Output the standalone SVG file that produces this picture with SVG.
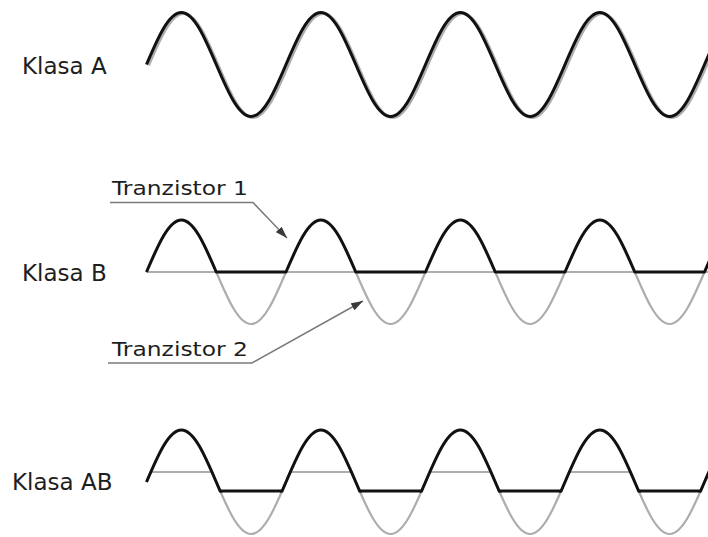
<svg xmlns="http://www.w3.org/2000/svg" xmlns:xlink="http://www.w3.org/1999/xlink" width="708" height="537" viewBox="0 0 708 537">
<style>
.lbl{font-family:"DejaVu Sans","Verdana",sans-serif;font-size:23px;fill:#1e1e1e}
.tr{font-family:"DejaVu Sans","Verdana",sans-serif;font-size:19px;fill:#1e1e1e}
.blk{fill:none;stroke:#111;stroke-width:3;stroke-linejoin:round}
.gry{fill:none;stroke:#adadad;stroke-width:2.2;stroke-linejoin:round}
.lead{fill:none;stroke:#7a7a7a;stroke-width:1.5}
</style>
<defs>
<path id="sine" d="M0,0
c 11.37,-26.64 22.25,-52 34.875,-52 c 12.625,0 23.505,25.36 34.875,52 c 11.37,26.64 22.25,52 34.875,52 c 12.625,0 23.505,-25.36 34.875,-52
c 11.37,-26.64 22.25,-52 34.875,-52 c 12.625,0 23.505,25.36 34.875,52 c 11.37,26.64 22.25,52 34.875,52 c 12.625,0 23.505,-25.36 34.875,-52
c 11.37,-26.64 22.25,-52 34.875,-52 c 12.625,0 23.505,25.36 34.875,52 c 11.37,26.64 22.25,52 34.875,52 c 12.625,0 23.505,-25.36 34.875,-52
c 11.37,-26.64 22.25,-52 34.875,-52 c 12.625,0 23.505,25.36 34.875,52 c 11.37,26.64 22.25,52 34.875,52 c 12.625,0 23.505,-25.36 34.875,-52
c 11.37,-26.64 22.25,-52 34.875,-52"/>
<path id="top" d="M0,0
c 11.37,-26.64 22.25,-52 34.875,-52 c 12.625,0 23.505,25.36 34.875,52 h69.75
c 11.37,-26.64 22.25,-52 34.875,-52 c 12.625,0 23.505,25.36 34.875,52 h69.75
c 11.37,-26.64 22.25,-52 34.875,-52 c 12.625,0 23.505,25.36 34.875,52 h69.75
c 11.37,-26.64 22.25,-52 34.875,-52 c 12.625,0 23.505,25.36 34.875,52 h69.75
c 11.37,-26.64 22.25,-52 34.875,-52"/>
<path id="bot" d="M0,0 h69.75
c 11.37,26.64 22.25,52 34.875,52 c 12.625,0 23.505,-25.36 34.875,-52 h69.75
c 11.37,26.64 22.25,52 34.875,52 c 12.625,0 23.505,-25.36 34.875,-52 h69.75
c 11.37,26.64 22.25,52 34.875,52 c 12.625,0 23.505,-25.36 34.875,-52 h69.75
c 11.37,26.64 22.25,52 34.875,52 c 12.625,0 23.505,-25.36 34.875,-52 h20"/>
<clipPath id="clipBlk"><rect x="0" y="400" width="708" height="92.5"/></clipPath>
<clipPath id="clipGry"><rect x="0" y="471" width="708" height="66"/></clipPath>
<marker id="arr" viewBox="0 0 12 8" refX="12" refY="4" markerWidth="12" markerHeight="8" markerUnits="userSpaceOnUse" orient="auto">
<path d="M0,0 L12,4 L0,8 Z" fill="#3a3a3a"/>
</marker>
</defs>

<g id="klasa-a">
<text class="lbl" x="22" y="74">Klasa A</text>
<use href="#sine" xlink:href="#sine" class="gry" x="148.5" y="65.5" style="stroke-width:3"/>
<use href="#sine" xlink:href="#sine" class="blk" x="146.5" y="64.5"/>
</g>

<g id="klasa-b">
<text class="lbl" x="22" y="281">Klasa B</text>
<use href="#bot" xlink:href="#bot" class="gry" x="146.5" y="272"/>
<use href="#top" xlink:href="#top" class="blk" x="146.5" y="272"/>
</g>

<g id="klasa-ab">
<text class="lbl" x="12" y="490">Klasa AB</text>
<g clip-path="url(#clipGry)">
<use href="#sine" xlink:href="#sine" class="gry" x="146.5" y="482"/>
</g>
<path class="gry" d="M150.8,472 H212 M290.3,472 H351.5 M429.8,472 H491 M569.3,472 H630.5"/>
<g clip-path="url(#clipBlk)">
<use href="#sine" xlink:href="#sine" class="blk" x="146.5" y="482"/>
</g>
<path class="blk" d="M220.1,491 H282.1 M359.6,491 H421.6 M499.1,491 H561.1 M638.6,491 H700.6"/>
</g>

<g id="tranzistor-1">
<text class="tr" x="112" y="195" textLength="136" lengthAdjust="spacingAndGlyphs">Tranzistor 1</text>
</g>
<g id="tranzistor-2">
<text class="tr" x="112" y="356" textLength="136" lengthAdjust="spacingAndGlyphs">Tranzistor 2</text>
</g>

<g id="connectors">
<polyline class="lead" points="110,202.5 253,202.5 287,238" marker-end="url(#arr)"/>
<polyline class="lead" points="108,363 252,363 363,301" marker-end="url(#arr)"/>
</g>
</svg>
